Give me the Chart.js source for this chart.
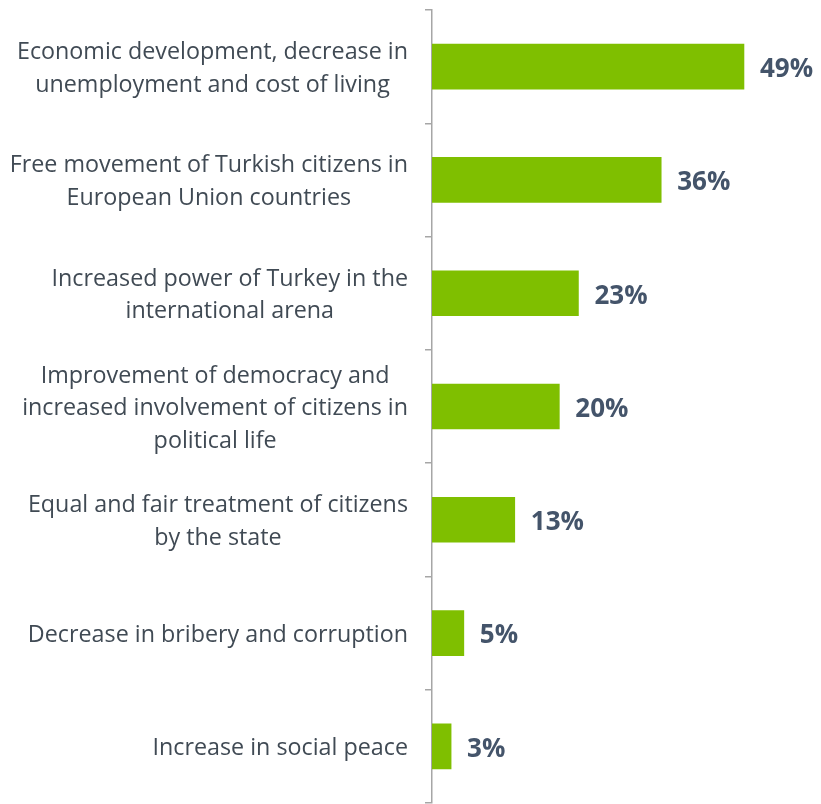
<!DOCTYPE html>
<html>
<head>
<meta charset="utf-8">
<script src="https://cdn.jsdelivr.net/npm/chart.js@4/dist/chart.umd.min.js"></script>
<style>
html,body{margin:0;padding:0;background:#fff;}
#wrap{width:821px;height:804px;position:relative;}
</style>
</head>
<body>
<div id="wrap"><canvas id="c" width="821" height="804"></canvas></div>
<script>
const categories = [
  ["Economic development, decrease in", "unemployment and cost of living"],
  ["Free movement of Turkish citizens in", "European Union countries"],
  ["Increased power of Turkey in the", "international arena"],
  ["Improvement of democracy and", "increased involvement of citizens in", "political life"],
  ["Equal and fair treatment of citizens", "by the state"],
  ["Decrease in bribery and corruption"],
  ["Increase in social peace"]
];
const values = [49, 36, 23, 20, 13, 5, 3];
const valueLabels = ["49%", "36%", "23%", "20%", "13%", "5%", "3%"];

// Category labels: each block right-aligned to the axis, lines centred within the block
const categoryLabelPlugin = {
  id: 'categoryLabels',
  afterDraw(chart) {
    const ctx = chart.ctx;
    const yScale = chart.scales.y;
    const rightEdge = yScale.right - 7 - 17;
    const lineGap = 32.5;
    ctx.save();
    ctx.font = '23.3px "Open Sans", sans-serif';
    ctx.fillStyle = '#404a54';
    ctx.textAlign = 'center';
    ctx.textBaseline = 'middle';
    chart.data.labels.forEach((lines, i) => {
      const yc = yScale.getPixelForValue(i) + 2;
      const maxW = Math.max(...lines.map(l => ctx.measureText(l).width));
      const xc = rightEdge - maxW / 2;
      lines.forEach((l, j) => {
        ctx.fillText(l, xc, yc + (j - (lines.length - 1) / 2) * lineGap);
      });
    });
    ctx.restore();
  }
};

const valueLabelPlugin = {
  id: 'valueLabels',
  afterDatasetsDraw(chart) {
    const ctx = chart.ctx;
    const meta = chart.getDatasetMeta(0);
    ctx.save();
    ctx.font = 'bold 26px "Open Sans", sans-serif';
    ctx.fillStyle = '#44546a';
    ctx.textAlign = 'left';
    ctx.textBaseline = 'middle';
    meta.data.forEach((bar, i) => {
      ctx.fillText(valueLabels[i], bar.x + 16, bar.y + 3);
    });
    ctx.restore();
  }
};

new Chart(document.getElementById('c'), {
  type: 'bar',
  data: {
    labels: categories,
    datasets: [{
      data: values,
      backgroundColor: '#7fbf00',
      borderWidth: 0,
      barThickness: 45
    }]
  },
  options: {
    indexAxis: 'y',
    responsive: false,
    animation: false,
    layout: { padding: { top: 10, bottom: 1, left: 0, right: 7 } },
    plugins: { legend: { display: false }, tooltip: { enabled: false } },
    scales: {
      x: {
        display: false,
        min: 0,
        max: 60
      },
      y: {
        afterFit(scale) {
          scale.width = 432;
          scale.paddingTop = 0;
          scale.paddingBottom = 0;
        },
        border: { display: true, color: '#a6a6a6', width: 1.5 },
        grid: {
          display: true,
          drawOnChartArea: false,
          drawTicks: true,
          tickLength: 7,
          color: '#a6a6a6',
          lineWidth: 1.5,
          offset: true
        },
        ticks: {
          display: false
        }
      }
    }
  },
  plugins: [valueLabelPlugin, categoryLabelPlugin]
});
</script>
</body>
</html>
